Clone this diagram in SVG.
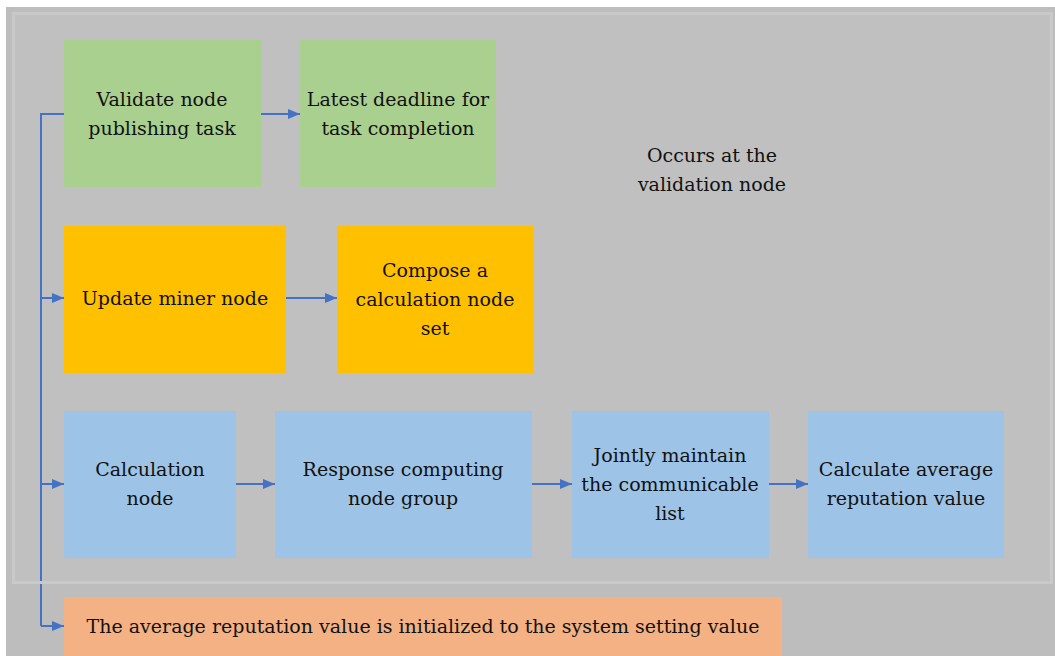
<svg xmlns="http://www.w3.org/2000/svg" width="1055" height="656" viewBox="0 0 1055 656">
<defs>
<style>
text{font-size:19px;fill:#111;text-anchor:middle}
.g{fill:#a9d08e}.o{fill:#ffc000}.b{fill:#9dc3e6}.s{fill:#f4b183}
.c{stroke:#4472c4;stroke-width:2;fill:none}
</style>
<marker id="ah" markerWidth="12" markerHeight="10" refX="12" refY="5" orient="auto" markerUnits="userSpaceOnUse">
<path d="M0,0 L12,5 L0,10 Z" fill="#4472c4"/>
</marker>
</defs>
<rect x="0" y="0" width="1055" height="656" fill="#fff"/>
<rect x="6" y="7" width="1049" height="649" fill="#bdbdbd"/>
<rect x="13.5" y="13.5" width="1038" height="569" fill="#c0c0c0" stroke="#c9c9c9" stroke-width="3"/>
<g id="connectors">
<path class="c" d="M64,114 H41 V626"/>
<path class="c" d="M41,298 H64" marker-end="url(#ah)"/>
<path class="c" d="M41,484 H64" marker-end="url(#ah)"/>
<path class="c" d="M41,626 H64" marker-end="url(#ah)"/>
<path class="c" d="M261,114 H300" marker-end="url(#ah)"/>
<path class="c" d="M286,298 H337" marker-end="url(#ah)"/>
<path class="c" d="M236,484 H275" marker-end="url(#ah)"/>
<path class="c" d="M532,484 H572" marker-end="url(#ah)"/>
<path class="c" d="M769,484 H808" marker-end="url(#ah)"/>
</g>
<rect x="13" y="581" width="1039" height="3" fill="#c9c9c9"/>
<g font-family="DejaVu Serif, serif">
<g id="validate"><rect class="g" x="64" y="40" width="197" height="147"/><text x="162" y="106">Validate node</text><text x="162" y="135">publishing task</text></g>
<g id="deadline"><rect class="g" x="300" y="40" width="196" height="147"/><text x="398" y="106">Latest deadline for</text><text x="398" y="135">task completion</text></g>
<g id="occurs"><text x="712" y="162">Occurs at the</text><text x="712" y="191">validation node</text></g>
<g id="update"><rect class="o" x="64" y="226" width="222" height="147"/><text x="175" y="305">Update miner node</text></g>
<g id="compose"><rect class="o" x="337" y="226" width="196" height="147"/><text x="435" y="277">Compose a</text><text x="435" y="306">calculation node</text><text x="435" y="335">set</text></g>
<g id="calcnode"><rect class="b" x="64" y="411" width="172" height="147"/><text x="150" y="476">Calculation</text><text x="150" y="505">node</text></g>
<g id="response"><rect class="b" x="275" y="411" width="257" height="147"/><text x="403" y="476">Response computing</text><text x="403" y="505">node group</text></g>
<g id="jointly"><rect class="b" x="572" y="411" width="197" height="147"/><text x="670" y="462">Jointly maintain</text><text x="670" y="491">the communicable</text><text x="670" y="520">list</text></g>
<g id="average"><rect class="b" x="808" y="411" width="196" height="147"/><text x="906" y="476">Calculate average</text><text x="906" y="505">reputation value</text></g>
<g id="init"><rect class="s" x="64" y="597" width="718" height="59"/><text x="423" y="633">The average reputation value is initialized to the system setting value</text></g>
</g>
</svg>
